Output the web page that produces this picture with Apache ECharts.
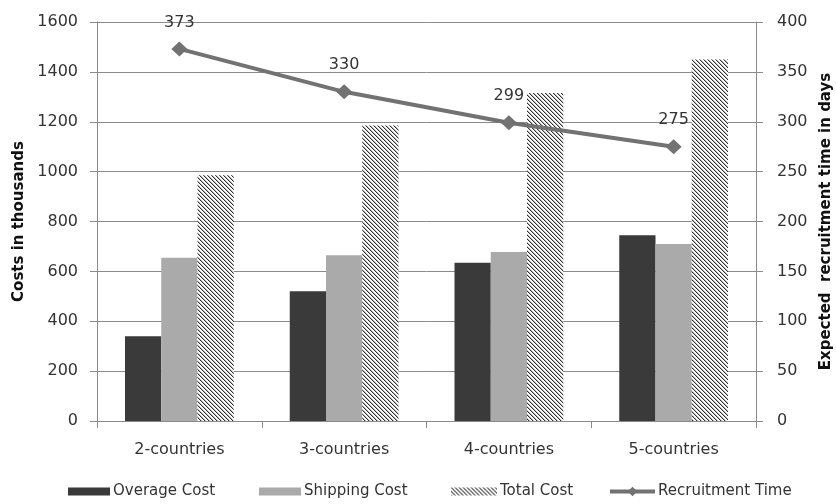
<!DOCTYPE html>
<html>
<head>
<meta charset="utf-8">
<script src="https://cdn.jsdelivr.net/npm/echarts@6/dist/echarts.min.js"></script>
<style>
  html, body { margin: 0; padding: 0; background: #fff; }
  #chart { width: 836px; height: 504px; }
</style>
</head>
<body>
<div id="chart"></div>
<script>
// Scenario categories
const categories = ['2-countries', '3-countries', '4-countries', '5-countries'];
// Costs (thousands)
const overageCost = [340, 520, 635, 745];
const shippingCost = [655, 665, 678, 710];
const totalCost = [985, 1185, 1315, 1450];
// Expected recruitment time (days)
const recruitmentTime = [373, 330, 299, 275];

// Diagonal hatch fill for the total cost bars
function hatchPattern() {
  const c = document.createElement('canvas');
  c.width = 4; c.height = 4;
  const g = c.getContext('2d');
  g.fillStyle = '#ffffff';
  g.fillRect(0, 0, 4, 4);
  g.fillStyle = '#333333';
  for (let i = 0; i < 4; i++) {
    g.fillRect(i, i, 1, 1);
    g.globalAlpha = 0.35;
    g.fillRect((i + 1) % 4, i, 1, 1);
    g.globalAlpha = 1;
  }
  return { image: c, repeat: 'repeat' };
}
const hatch = hatchPattern();

const font = '"DejaVu Sans", sans-serif';
const axisGrey = '#8a8a8a';
const textCol = '#333333';
const lineGrey = '#727272';

const chart = echarts.init(document.getElementById('chart'), null, { renderer: 'canvas' });

const legendBase = {
  bottom: 5,
  itemWidth: 42,
  itemHeight: 8,
  itemGap: 4,
  textStyle: { fontFamily: font, fontSize: 15, color: textCol, padding: [0, 0, 0, -2] },
  padding: 0
};

chart.setOption({
  animation: false,
  backgroundColor: '#ffffff',
  grid: { left: 97, right: 80, top: 22, bottom: 83, outerBoundsMode: 'none', containLabel: false },
  legend: [
    Object.assign({}, legendBase, { left: 68, data: [{ name: 'Overage Cost', icon: 'rect' }] }),
    Object.assign({}, legendBase, { left: 259, data: [{ name: 'Shipping Cost', icon: 'rect' }] }),
    Object.assign({}, legendBase, { left: 451, itemWidth: 46, data: [{ name: 'Total Cost', icon: 'rect' }] }),
    Object.assign({}, legendBase, {
      left: 608, itemWidth: 45, itemHeight: 12,
      data: [{ name: 'Recruitment Time', lineStyle: { width: 4, color: lineGrey } }]
    })
  ],
  xAxis: {
    type: 'category',
    data: categories,
    axisLine: { lineStyle: { color: axisGrey, width: 1 } },
    axisTick: { show: true, length: 7, lineStyle: { color: axisGrey } },
    axisLabel: { fontFamily: font, fontSize: 16, color: textCol, margin: 21 }
  },
  yAxis: [
    {
      type: 'value',
      min: 0, max: 1600, interval: 200,
      name: 'Costs in thousands',
      nameLocation: 'middle',
      nameGap: 70,
      nameTextStyle: { fontFamily: font, fontSize: 15, fontWeight: 'bold', color: '#111' },
      axisLine: { show: true, lineStyle: { color: axisGrey } },
      axisTick: { show: true, length: 7, lineStyle: { color: axisGrey } },
      axisLabel: { fontFamily: font, fontSize: 16, color: textCol, margin: 19, formatter: v => String(v) },
      splitLine: { lineStyle: { color: axisGrey, width: 1 } }
    },
    {
      type: 'value',
      min: 0, max: 400, interval: 50,
      name: 'Expected  recruitment time in days',
      nameLocation: 'middle',
      nameGap: 62,
      nameRotate: 90,
      nameTextStyle: { fontFamily: font, fontSize: 15, fontWeight: 'bold', color: '#111' },
      axisLine: { show: true, lineStyle: { color: axisGrey } },
      axisTick: { show: true, length: 7, lineStyle: { color: axisGrey } },
      axisLabel: { fontFamily: font, fontSize: 16, color: textCol, margin: 21 },
      splitLine: { show: false }
    }
  ],
  series: [
    {
      name: 'Overage Cost', type: 'bar', data: overageCost,
      barGap: '0%', barCategoryGap: '34%',
      itemStyle: { color: '#3a3a3a' }
    },
    {
      name: 'Shipping Cost', type: 'bar', data: shippingCost,
      itemStyle: { color: '#aaaaaa' }
    },
    {
      name: 'Total Cost', type: 'bar', data: totalCost,
      itemStyle: { color: hatch }
    },
    {
      name: 'Recruitment Time', type: 'line', yAxisIndex: 1, data: recruitmentTime,
      symbol: 'diamond', symbolSize: [16, 15],
      lineStyle: { color: lineGrey, width: 4 },
      itemStyle: { color: lineGrey },
      label: {
        show: true, position: 'top', distance: 11,
        fontFamily: font, fontSize: 16, color: textCol
      },
      z: 5
    }
  ]
});
</script>
</body>
</html>
